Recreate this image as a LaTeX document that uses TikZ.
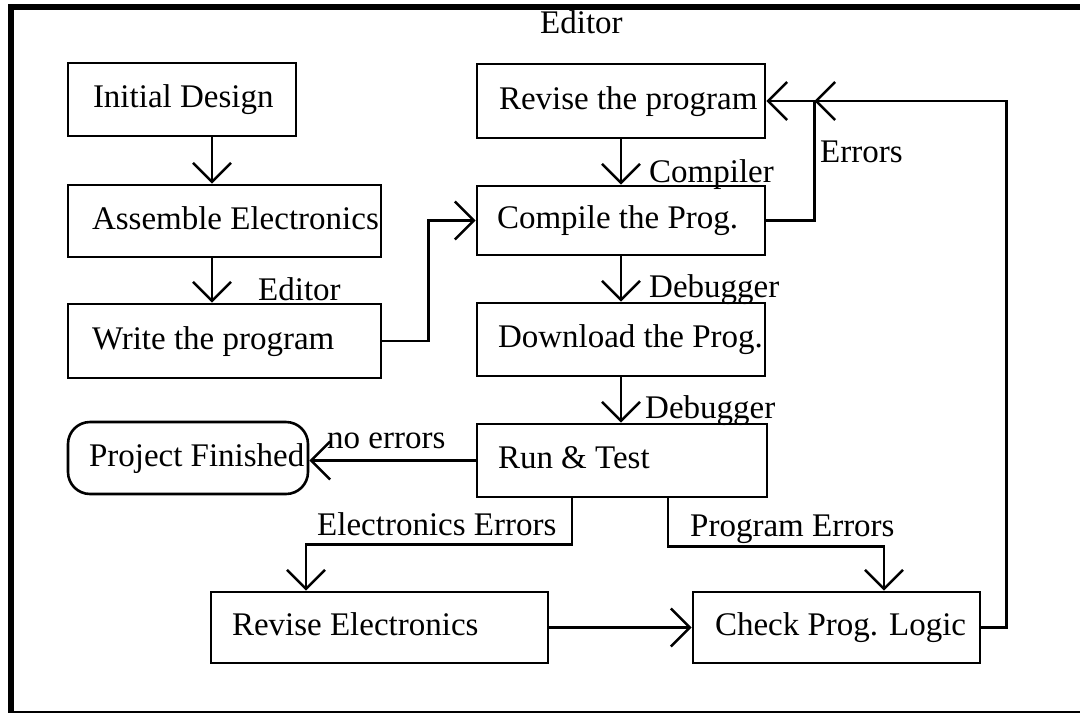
\documentclass[tikz,border=0pt]{standalone}
\usepackage{fontspec}
\setmainfont{Liberation Serif}
\usetikzlibrary{arrows.meta,calc}
\newcommand{\boxtext}[3]{\makebox[#1pt][l]{\hspace*{#2pt}#3}}
\begin{document}
\begin{tikzpicture}[x=1pt,y=-1pt,
  every node/.style={font=\fontsize{33}{38}\selectfont},
  box/.style={draw, line width=2.6pt, inner xsep=0pt, inner ysep=0pt,
    text height=23pt, text depth=7pt},
  lbl/.style={inner sep=0pt, anchor=base west},
  conn/.style={line width=2.6pt, line join=miter},
  arr/.style={conn, -{Straight Barb[length=19pt,width=38pt]}}]
\useasboundingbox (0,0) rectangle (1080,713);
% frame
\fill[black] (8,4) rectangle (14,713);
\fill[black] (8,4) rectangle (1080,10);
\draw[line width=1.2pt] (8,712) -- (1080,712);
% boxes
\node[box, minimum height=73pt] (init) at (182,99.5) {\boxtext{228}{25}{Initial Design}};
\node[box, minimum height=72pt] (asm) at (224.5,221) {\boxtext{313}{24}{Assemble Electronics}};
\node[box, minimum height=74pt] (write) at (224.5,341) {\boxtext{313}{24}{Write the program}};
\node[box, minimum height=74pt] (revp) at (621,101) {\boxtext{288}{22}{Revise the program}};
\node[box, minimum height=69pt] (comp) at (621,220.5) {\boxtext{288}{20}{Compile the Prog.}};
\node[box, minimum height=73pt] (down) at (621,339.5) {\boxtext{288}{21}{Download the Prog.}};
\node[box, minimum height=73pt] (run) at (622,460.5) {\boxtext{290}{21}{Run \& Test}};
\node[box, rounded corners=22pt, minimum height=72pt] (fin) at (188,458) {\boxtext{240}{21}{Project Finished}};
\node[box, minimum height=71pt] (reve) at (379.5,627.5) {\boxtext{337}{21}{Revise Electronics}};
\node[box, minimum height=71pt] (check) at (836.5,627.5) {\boxtext{287}{22}{Check Prog. Logic}};
% junction
\coordinate (errj) at ([xshift=48pt]revp.east);
% connectors
\draw[arr] ([xshift=30pt]init.south) -- ([xshift=30pt]init.south |- asm.north);
\draw[arr] ([xshift=-12.5pt]asm.south) -- ([xshift=-12.5pt]asm.south |- write.north);
\draw[arr] (write.east) -- ++(46,0) |- (comp.west);
\draw[arr] (revp.south) -- (comp.north);
\draw[arr] (comp.south) -- (down.north);
\draw[arr] (down.south) -- (down.south |- run.north);
\draw[arr] (run.west) -- (run.west -| fin.east);
\draw[arr] ([xshift=-50pt]run.south) -- ++(0,46) -| ([xshift=-73.5pt]reve.north);
\draw[arr] ([xshift=46pt]run.south) -- ++(0,48) -| ([xshift=47.5pt]check.north);
\draw[arr] (reve.east) -- (check.west);
\draw[arr] (check.east) -- ++(25,0) |- (errj);
\draw[arr] (comp.east) -- (comp.east -| errj) -- (errj) -- (revp.east);
% labels
\node[lbl] (l1) at (540,33) {Editor};
\node[lbl] (l2) at (258,300) {Editor};
\node[lbl] (l3) at (649,182) {Compiler};
\node[lbl] (l4) at (820,162) {Errors};
\node[lbl] (l5) at (649,297) {Debugger};
\node[lbl] (l6) at (645,418) {Debugger};
\node[lbl] (l7) at (327,448) {no errors};
\node[lbl] (l8) at (317,535) {Electronics Errors};
\node[lbl] (l9) at (690,536) {Program Errors};
\end{tikzpicture}
\end{document}
